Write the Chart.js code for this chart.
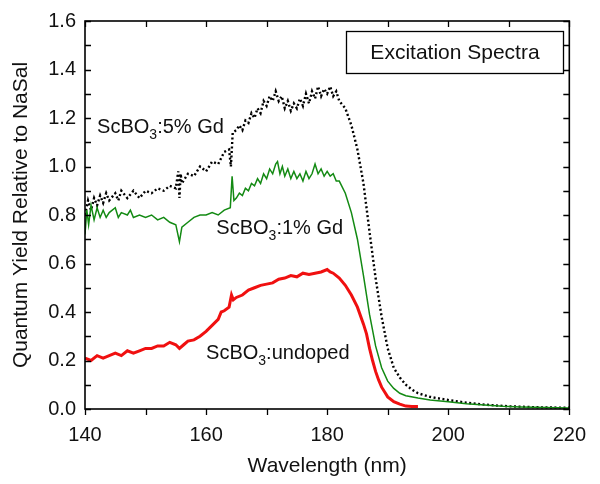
<!DOCTYPE html>
<html>
<head>
<meta charset="utf-8">
<script src="https://cdn.jsdelivr.net/npm/chart.js@4"></script>
<style>
  html, body { margin:0; padding:0; background:#fff; }
  #wrap { width:600px; height:484px; }
</style>
</head>
<body>
<div id="wrap"><canvas id="chart" width="600" height="484"></canvas></div>
<script>
// ─── Data ─────────────────────────────────────────────────────────────────────
const WL_UNDOPED = [140,141,142,143,144,145,146,147,148,149,150,151,152,153,154,155,155.6,156.3,157,158,159,160,161,162,162.5,163,163.8,164.2,164.5,165,166,167,168,169,170,171,172,173,174,175,176,177,178,179,180,180.5,181,182,183,184,185,186,186.5,187,187.5,188,188.5,189,189.5,190,191,192,193,194,195];
const QY_UNDOPED = [0.21,0.20,0.22,0.21,0.22,0.23,0.22,0.24,0.23,0.24,0.25,0.25,0.26,0.26,0.275,0.265,0.25,0.265,0.28,0.285,0.30,0.32,0.345,0.37,0.40,0.405,0.42,0.47,0.45,0.46,0.47,0.49,0.50,0.51,0.515,0.52,0.535,0.54,0.55,0.545,0.56,0.555,0.56,0.565,0.575,0.565,0.56,0.54,0.51,0.47,0.42,0.35,0.31,0.25,0.20,0.155,0.12,0.09,0.07,0.05,0.03,0.02,0.012,0.01,0.01];

const WL_1GD = [140,140.3,140.6,141,141.5,142,142.5,143,143.5,144,145,145.5,146,147,147.5,148,149,150,151,152,153,154,155,155.6,156,157,158,159,160,161,162,163,164,164.3,164.6,165,165.5,166,166.5,167,167.5,168,168.5,169,169.5,170,170.5,171,171.5,171.8,172.2,172.6,173,173.5,174,174.5,175,175.5,176,176.5,177,177.5,178,178.5,179,179.5,180,180.5,181,181.5,182,183,184,185,186,187,188,189,190,191,192,193,195,197,200,203,206,209,212,216,220];
const QY_1GD = [0.72,0.82,0.76,0.84,0.78,0.83,0.79,0.82,0.79,0.81,0.83,0.79,0.81,0.80,0.82,0.79,0.80,0.79,0.80,0.78,0.79,0.77,0.76,0.69,0.75,0.77,0.79,0.80,0.80,0.81,0.80,0.82,0.83,0.96,0.86,0.87,0.89,0.88,0.91,0.90,0.93,0.92,0.95,0.93,0.97,0.95,0.99,0.97,1.01,1.02,0.97,1.00,0.96,0.99,0.95,0.98,0.95,0.97,0.94,0.98,0.95,0.97,1.01,0.97,0.99,0.96,0.98,0.96,0.97,0.94,0.94,0.89,0.81,0.70,0.55,0.39,0.26,0.17,0.115,0.085,0.065,0.055,0.045,0.037,0.03,0.022,0.016,0.011,0.008,0.006,0.004];

const WL_5GD = [140,140.5,141,141.5,142,142.5,143,143.5,144,145,145.5,146,147,148,149,150,151,152,153,154,155,155.4,155.6,155.8,156,157,158,159,160,161,162,163,163.8,164.1,164.4,165,165.5,166,166.5,167,167.5,168,168.5,169,169.5,170,170.5,171,171.5,172,172.5,173,173.5,174,174.5,175,175.5,176,176.5,177,177.5,178,178.5,179,179.5,180,180.5,181,181.5,182,183,184,185,186,187,188,189,190,191,192,193,194,195,197,200,203,206,210,215,220];
const QY_5GD = [0.80,0.86,0.82,0.87,0.84,0.88,0.85,0.89,0.86,0.89,0.86,0.90,0.87,0.90,0.87,0.90,0.89,0.91,0.90,0.92,0.91,0.98,0.87,0.97,0.93,0.97,0.96,1.00,0.98,1.02,1.01,1.06,1.07,1.00,1.14,1.15,1.17,1.15,1.19,1.18,1.22,1.20,1.24,1.22,1.27,1.25,1.29,1.27,1.31,1.27,1.29,1.24,1.27,1.23,1.26,1.24,1.28,1.25,1.30,1.26,1.31,1.28,1.33,1.29,1.32,1.30,1.33,1.29,1.31,1.27,1.24,1.17,1.07,0.93,0.73,0.54,0.38,0.25,0.17,0.13,0.10,0.08,0.065,0.05,0.037,0.026,0.018,0.011,0.007,0.005];

const X_TICKS = [140,160,180,200,220];
const Y_TICKS = [0,0.2,0.4,0.6,0.8,1.0,1.2,1.4,1.6];

// annotation text pieces: [before subscript, subscript, after subscript, x (nm), y (value at baseline)]
const LABELS = [
  ['ScBO','3',':5% Gd', 142, 1.14],
  ['ScBO','3',':1% Gd', 161.7, 0.722],
  ['ScBO','3',':undoped', 160.0, 0.208],
];

const FONT = "'Liberation Sans', Arial, Helvetica, sans-serif";
const pts = (xs, ys) => xs.map((x,i) => ({x, y:ys[i]}));

// ─── Frame, ticks, labels ─────────────────────────────────────────────────────
const framePlugin = {
  id:'frame',
  afterDatasetsDraw(chart) {
    const {ctx, chartArea:a, scales:{x, y}} = chart;
    ctx.save();
    ctx.strokeStyle = '#000';
    ctx.lineWidth = 1.6;
    ctx.strokeRect(a.left, a.top, a.right - a.left, a.bottom - a.top);
    ctx.lineWidth = 1.3;
    const TL = 6;
    ctx.beginPath();
    for (let v = 140; v <= 220; v += 10) {
      const px = Math.round(x.getPixelForValue(v)) + 0.5;
      ctx.moveTo(px, a.bottom); ctx.lineTo(px, a.bottom + TL);   // bottom ticks point out
      ctx.moveTo(px, a.top); ctx.lineTo(px, a.top + TL);
    }
    for (let k = 0; k <= 16; k++) {
      const py = Math.round(y.getPixelForValue(k / 10)) + 0.5;
      ctx.moveTo(a.left, py); ctx.lineTo(a.left + TL, py);
      ctx.moveTo(a.right, py); ctx.lineTo(a.right - TL, py);
    }
    ctx.stroke();

    // title box
    ctx.fillStyle = '#fff';
    ctx.fillRect(346, 31, 217, 42);
    ctx.lineWidth = 1.3;
    ctx.strokeRect(346.5, 31.5, 217, 42);
    ctx.fillStyle = '#111';
    ctx.font = `21px ${FONT}`;
    ctx.textAlign = 'center';
    ctx.textBaseline = 'middle';
    ctx.fillText('Excitation Spectra', 455, 53);

    // series labels with subscript
    ctx.textAlign = 'left';
    ctx.textBaseline = 'alphabetic';
    LABELS.forEach(([a1, sub, a2, lx, ly]) => {
      let px = x.getPixelForValue(lx);
      const py = y.getPixelForValue(ly);
      ctx.font = `20px ${FONT}`;
      ctx.fillText(a1, px, py);
      px += ctx.measureText(a1).width;
      ctx.font = `14px ${FONT}`;
      ctx.fillText(sub, px, py + 6);
      px += ctx.measureText(sub).width;
      ctx.font = `20px ${FONT}`;
      ctx.fillText(a2, px, py);
    });
    ctx.restore();
  }
};

new Chart(document.getElementById('chart').getContext('2d'), {
  type:'line',
  data:{
    datasets:[
      { label:'ScBO3:undoped', data:pts(WL_UNDOPED, QY_UNDOPED),
        borderColor:'#f01010', borderWidth:3, pointRadius:0, tension:0 },
      { label:'ScBO3:1% Gd', data:pts(WL_1GD, QY_1GD),
        borderColor:'#138a13', borderWidth:1.5, pointRadius:0, tension:0 },
      { label:'ScBO3:5% Gd', data:pts(WL_5GD, QY_5GD),
        borderColor:'#000', borderWidth:2.4, borderDash:[2,2.5], pointRadius:0, tension:0 },
    ]
  },
  options:{
    responsive:false,
    animation:false,
    events:[],
    layout:{ padding:{ top:17, right:28, bottom:0, left:0 } },
    plugins:{ legend:{display:false}, tooltip:{enabled:false} },
    scales:{
      x:{
        type:'linear', min:140, max:220,
        afterBuildTicks: s => { s.ticks = X_TICKS.map(v => ({value:v})); },
        afterFit: s => { s.height = 75; },
        grid:{ display:false, drawTicks:false },
        border:{ display:false },
        ticks:{ color:'#111', padding:14, font:{family:FONT, size:20} },
        title:{ display:true, text:'Wavelength (nm)', color:'#111',
                font:{family:FONT, size:21}, padding:{top:0, bottom:5} }
      },
      y:{
        type:'linear', min:0, max:1.6,
        afterBuildTicks: s => { s.ticks = Y_TICKS.map(v => ({value:v})); },
        afterFit: s => { s.width = 85; },
        grid:{ display:false, drawTicks:false },
        border:{ display:false },
        ticks:{ color:'#111', padding:9, font:{family:FONT, size:20}, callback: v => v.toFixed(1) },
        title:{ display:true, text:'Quantum Yield Relative to NaSal', color:'#111',
                font:{family:FONT, size:21}, padding:{top:9, bottom:0} }
      }
    }
  },
  plugins:[framePlugin]
});
</script>
</body>
</html>
